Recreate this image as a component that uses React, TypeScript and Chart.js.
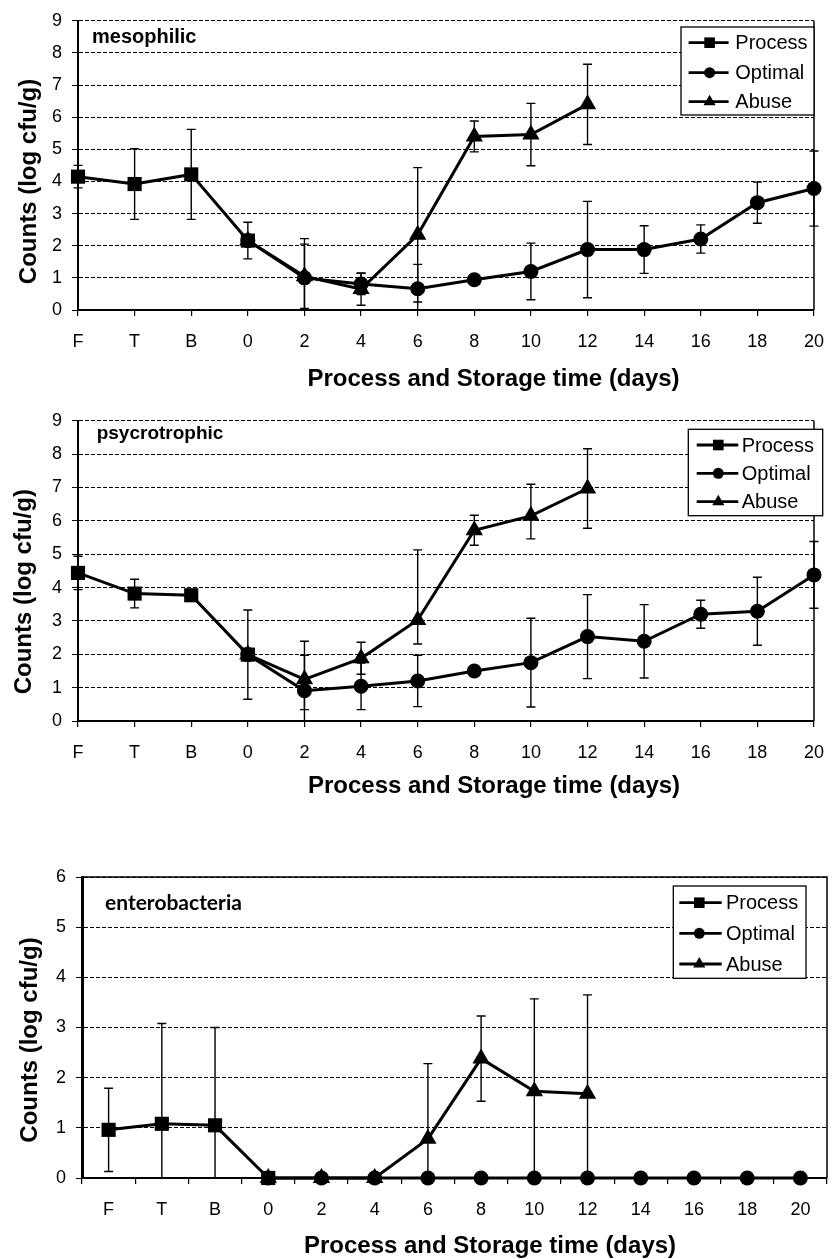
import React, { useEffect, useRef } from 'react';
import { Chart, registerables } from 'chart.js';

Chart.register(...registerables);

// ---------- data ----------
const categories = ['F', 'T', 'B', '0', '2', '4', '6', '8', '10', '12', '14', '16', '18', '20'];
const seriesNames = ['Process', 'Optimal', 'Abuse'];
const xAxisTitle = 'Process and Storage time (days)';
const yAxisTitle = 'Counts (log cfu/g)';
const _ = null;

type Err = number | [number, number] | null;

// mesophilic
const mesoProcess = [4.15, 3.92, 4.22, 2.16, _, _, _, _, _, _, _, _, _, _];
const mesoProcessErr: Err[] = [0.35, 1.1, 1.4, 0.57, _, _, _, _, _, _, _, _, _, _];
const mesoOptimal = [_, _, _, 2.16, 1.0, 0.81, 0.66, 0.94, 1.2, 1.88, 1.88, 2.21, 3.34, 3.78];
const mesoOptimalErr: Err[] = [_, _, _, 0, 1.22, 0.33, 0.76, 0.1, 0.88, 1.5, 0.74, 0.44, 0.64, 1.17];
const mesoAbuse = [_, _, _, 2.16, 1.05, 0.65, 2.34, 5.4, 5.46, 6.4, _, _, _, _];
const mesoAbuseErr: Err[] = [_, _, _, 0, 1.0, 0.5, 2.09, 0.48, 0.97, 1.25, _, _, _, _];

// psycrotrophic
const psycProcess = [4.44, 3.82, 3.77, 1.99, _, _, _, _, _, _, _, _, _, _];
const psycProcessErr: Err[] = [0.5, 0.43, 0.1, 1.34, _, _, _, _, _, _, _, _, _, _];
const psycOptimal = [_, _, _, 1.99, 0.91, 1.04, 1.2, 1.5, 1.75, 2.53, 2.39, 3.2, 3.29, 4.38];
const psycOptimalErr: Err[] = [_, _, _, 0, 1.06, 0.7, 0.77, 0.1, 1.33, 1.26, 1.1, 0.42, 1.02, 1.0];
const psycAbuse = [_, _, _, 1.99, 1.25, 1.88, 3.03, 5.72, 6.15, 6.97, _, _, _, _];
const psycAbuseErr: Err[] = [_, _, _, 0, [0.91, 1.14], 0.48, [0.72, 2.1], 0.45, [0.69, 0.95], 1.19, _, _, _, _];

// enterobacteria
const entProcess = [0.96, 1.08, 1.05, 0, _, _, _, _, _, _, _, _, _, _];
const entProcessErr: Err[] = [0.83, 2.0, 1.95, 0, _, _, _, _, _, _, _, _, _, _];
const entOptimal = [_, _, _, 0, 0, 0, 0, 0, 0, 0, 0, 0, 0, 0];
const entOptimalErr: Err[] = [_, _, _, 0, 0, 0, 0, 0, 0, 0, 0, 0, 0, 0];
const entAbuse = [_, _, _, 0, 0, 0, 0.78, 2.38, 1.73, 1.68, _, _, _, _];
const entAbuseErr: Err[] = [_, _, _, 0, 0, 0, 1.5, 0.85, 1.84, 1.97, _, _, _, _];

// ---------- styling / layout ----------
const FONT = '"Liberation Sans", Arial, Helvetica, sans-serif';
const MARKERS = ['rect', 'circle', 'triangle'];
const MARKER_R = [10, 7.5, 10];
const LEGEND_R = [7.5, 5.5, 7];

interface Panel {
  name: string;
  nameFont: string;
  nameX: number;
  nameY: number;
  yMax: number;
  offset: boolean;
  top: number;
  height: number;
  padTop: number;
  padRight: number;
  yWidth: number;
  xHeight: number;
  series: { data: (number | null)[]; err: Err[] }[];
  legend: { x: number; y: number; w: number; h: number; rows: number[]; l0: number; l1: number; m: number; t: number };
  xTitle: [number, number];
  yTitle: [number, number];
  topBorder: boolean;
  leftWidth: number;
}

const panels: Panel[] = [
  {
    name: 'mesophilic', nameFont: `bold 20px ${FONT}`, nameX: 92, nameY: 42.5,
    yMax: 9, offset: false, top: 0, height: 400,
    padTop: 15, padRight: 15, yWidth: 78, xHeight: 90,
    series: [
      { data: mesoProcess, err: mesoProcessErr },
      { data: mesoOptimal, err: mesoOptimalErr },
      { data: mesoAbuse, err: mesoAbuseErr },
    ],
    legend: { x: 681, y: 27, w: 133, h: 88, rows: [15.7, 45.7, 74.7], l0: 7.6, l1: 47.6, m: 28.6, t: 54.3 },
    xTitle: [493.5, 379.5], yTitle: [29, 181.5], topBorder: false, leftWidth: 2,
  },
  {
    name: 'psycrotrophic', nameFont: `bold 19px ${FONT}`, nameX: 96.7, nameY: 38.5,
    yMax: 9, offset: false, top: 400, height: 400,
    padTop: 17, padRight: 11, yWidth: 78, xHeight: 79,
    series: [
      { data: psycProcess, err: psycProcessErr },
      { data: psycOptimal, err: psycOptimalErr },
      { data: psycAbuse, err: psycAbuseErr },
    ],
    legend: { x: 688.3, y: 29.3, w: 134.4, h: 86.4, rows: [15.7, 44, 72.4], l0: 8.4, l1: 50, m: 30, t: 53.4 },
    xTitle: [494, 386], yTitle: [24, 191.7], topBorder: false, leftWidth: 2,
  },
  {
    name: 'enterobacteria', nameFont: `bold 21px Lato, "Open Sans", sans-serif`, nameX: 105, nameY: 110,
    yMax: 6, offset: true, top: 800, height: 459,
    padTop: 77, padRight: 12, yWidth: 82, xHeight: 81,
    series: [
      { data: entProcess, err: entProcessErr },
      { data: entOptimal, err: entOptimalErr },
      { data: entAbuse, err: entAbuseErr },
    ],
    legend: { x: 673.3, y: 86, w: 132.7, h: 92.3, rows: [16.7, 47.3, 78], l0: 6, l1: 48.4, m: 26, t: 52.7 },
    xTitle: [490, 446.5], yTitle: [30, 240], topBorder: true, leftWidth: 3,
  },
];

function drawMarker(ctx: CanvasRenderingContext2D, style: string, x: number, y: number, r: number) {
  ctx.beginPath();
  if (style === 'rect') {
    const s = r * Math.SQRT1_2;
    ctx.rect(x - s, y - s, 2 * s, 2 * s);
  } else if (style === 'circle') {
    ctx.arc(x, y, r, 0, Math.PI * 2);
  } else {
    const a = (2 * Math.PI) / 3;
    ctx.moveTo(x, y - r);
    ctx.lineTo(x + r * Math.sin(a), y - r * Math.cos(a));
    ctx.lineTo(x - r * Math.sin(a), y - r * Math.cos(a));
    ctx.closePath();
  }
  ctx.fill();
}

function makePlugins(p: Panel) {
  const errorBars = {
    id: 'errorBars',
    beforeDatasetsDraw(chart: any) {
      const { ctx } = chart;
      const x = chart.scales.x;
      const y = chart.scales.y;
      ctx.save();
      ctx.strokeStyle = '#000';
      ctx.lineWidth = 1.4;
      chart.data.datasets.forEach((ds: any) => {
        (ds.errorBars as Err[]).forEach((e, i) => {
          const v = ds.data[i];
          if (v == null || e == null) return;
          const [lo, hi] = typeof e === 'number' ? [e, e] : e;
          if (lo === 0 && hi === 0) return;
          const px = x.getPixelForValue(i);
          const topV = v + hi;
          const botV = v - lo;
          const yT = y.getPixelForValue(Math.min(topV, y.max));
          const yB = y.getPixelForValue(Math.max(botV, y.min));
          ctx.beginPath();
          ctx.moveTo(px, yT);
          ctx.lineTo(px, yB);
          if (topV <= y.max) {
            ctx.moveTo(px - 4.5, yT);
            ctx.lineTo(px + 4.5, yT);
          }
          if (botV >= y.min) {
            ctx.moveTo(px - 4.5, yB);
            ctx.lineTo(px + 4.5, yB);
          }
          ctx.stroke();
        });
      });
      ctx.restore();
    },
  };

  const decorations = {
    id: 'decorations',
    afterDraw(chart: any) {
      const { ctx, chartArea } = chart;
      ctx.save();
      // plot frame
      ctx.strokeStyle = '#000';
      ctx.lineWidth = 1.5;
      ctx.beginPath();
      ctx.moveTo(chartArea.right, chartArea.bottom);
      ctx.lineTo(chartArea.right, chartArea.top);
      if (p.topBorder) ctx.lineTo(chartArea.left, chartArea.top);
      ctx.stroke();

      // panel name
      ctx.fillStyle = '#000';
      ctx.font = p.nameFont;
      ctx.textAlign = 'left';
      ctx.textBaseline = 'alphabetic';
      ctx.fillText(p.name, p.nameX, p.nameY);

      // axis titles
      ctx.font = `bold 24px ${FONT}`;
      ctx.textAlign = 'center';
      ctx.textBaseline = 'middle';
      ctx.fillText(xAxisTitle, p.xTitle[0], p.xTitle[1]);
      ctx.save();
      ctx.translate(p.yTitle[0], p.yTitle[1]);
      ctx.rotate(-Math.PI / 2);
      ctx.font = `bold 24px ${FONT}`;
      ctx.fillText(yAxisTitle, 0, 0);
      ctx.restore();

      // legend
      const L = p.legend;
      ctx.fillStyle = '#fff';
      ctx.fillRect(L.x, L.y, L.w, L.h);
      ctx.strokeStyle = '#000';
      ctx.lineWidth = 1.3;
      ctx.strokeRect(L.x, L.y, L.w, L.h);
      ctx.font = `20px ${FONT}`;
      ctx.textAlign = 'left';
      ctx.textBaseline = 'middle';
      chart.data.datasets.forEach((ds: any, i: number) => {
        const ry = L.y + L.rows[i];
        ctx.strokeStyle = '#000';
        ctx.lineWidth = 2.8;
        ctx.beginPath();
        ctx.moveTo(L.x + L.l0, ry);
        ctx.lineTo(L.x + L.l1, ry);
        ctx.stroke();
        ctx.fillStyle = '#000';
        drawMarker(ctx, MARKERS[i], L.x + L.m, ry, LEGEND_R[i]);
        ctx.fillText(ds.label, L.x + L.t, ry + 1);
      });
      ctx.restore();
    },
  };
  return [errorBars, decorations];
}

function buildConfig(p: Panel): any {
  const datasets = p.series.map((s, i) => ({
    label: seriesNames[i],
    data: s.data,
    errorBars: s.err,
    borderColor: '#000',
    backgroundColor: '#000',
    borderWidth: 3,
    pointStyle: MARKERS[i],
    pointRadius: MARKER_R[i],
    pointBorderWidth: 0,
    pointBackgroundColor: '#000',
    spanGaps: false,
    tension: 0,
    clip: false,
  }));
  const tickFont = { family: FONT, size: 18 };
  return {
    type: 'line',
    data: { labels: categories, datasets },
    plugins: makePlugins(p),
    options: {
      responsive: false,
      animation: false,
      events: [],
      layout: { padding: { top: p.padTop, right: p.padRight, left: 0, bottom: 0 } },
      plugins: { legend: { display: false }, tooltip: { enabled: false }, title: { display: false } },
      scales: {
        x: {
          type: 'category',
          offset: p.offset,
          grid: {
            display: true,
            drawOnChartArea: false,
            drawTicks: true,
            tickLength: 6,
            color: '#000',
            lineWidth: 1.2,
            offset: p.offset,
          },
          border: { display: true, color: '#000', width: 2 },
          ticks: { font: tickFont, color: '#000', padding: 15, maxRotation: 0, minRotation: 0, autoSkip: false },
          afterFit: (s: any) => {
            s.height = p.xHeight;
          },
        },
        y: {
          type: 'linear',
          min: 0,
          max: p.yMax,
          grid: { color: '#000', lineWidth: 1, drawTicks: true, tickLength: 6 },
          border: { display: true, color: '#000', width: p.leftWidth, dash: [4, 2] },
          ticks: { stepSize: 1, font: tickFont, color: '#000', padding: 10 },
          afterFit: (s: any) => {
            s.width = p.yWidth;
          },
        },
      },
    },
  };
}

function ChartPanel({ panel }: { panel: Panel }) {
  const ref = useRef<HTMLCanvasElement>(null);
  useEffect(() => {
    const chart = new Chart(ref.current as HTMLCanvasElement, buildConfig(panel));
    return () => chart.destroy();
  }, [panel]);
  return (
    <canvas
      ref={ref}
      width={839}
      height={panel.height}
      style={{ position: 'absolute', left: 0, top: panel.top, width: 839, height: panel.height }}
    />
  );
}

export default function App() {
  return (
    <div style={{ position: 'absolute', left: 0, top: 0, width: 839, height: 1259, background: '#fff', overflow: 'hidden' }}>
      {panels.map((p) => (
        <ChartPanel key={p.name} panel={p} />
      ))}
    </div>
  );
}
